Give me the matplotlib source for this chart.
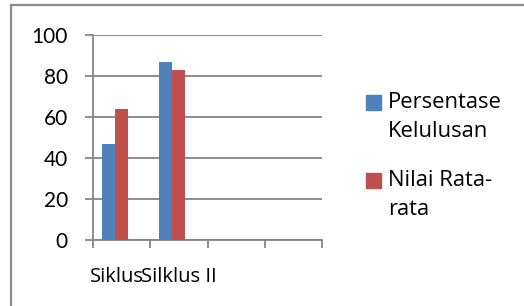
import matplotlib
matplotlib.use('Agg')
import matplotlib.pyplot as plt
from matplotlib.patches import Rectangle
from matplotlib.lines import Line2D

#data
categories = ['Siklus', 'Silklus II', '', '']
persentase_kelulusan = [47, 87]
nilai_rata_rata = [64, 83]
y_ticks = [0, 20, 40, 60, 80, 100]
series_names = ['Persentase\nKelulusan', 'Nilai Rata-\nrata']

BLUE = '#4F81BD'
RED = '#C0504D'
GRID = '#868686'

plt.rcParams['font.family'] = ['Lato', 'DejaVu Sans']
TXT_FONT = ['Open Sans', 'DejaVu Sans']

W, H = 524, 306
fig = plt.figure(figsize=(W / 100, H / 100), dpi=100)

#outer chart frame (only top and left edges visible)
fig.add_artist(Line2D([11 / W, 1], [1 - 5 / H, 1 - 5 / H], color='#8c8c8c', lw=1.6,
                      transform=fig.transFigure))
fig.add_artist(Line2D([11 / W, 11 / W], [0, 1 - 5 / H], color='#8c8c8c', lw=1.6,
                      transform=fig.transFigure))

ax = fig.add_axes([93 / W, 1 - 240 / H, (322 - 93) / W, (240 - 35) / H])

n = len(categories)
slot = list(range(len(persentase_kelulusan)))
bw = 0.226
# excel leaves room for a third (empty) series, so the pair sits left of centre
ax.bar([s + 0.5 - bw for s in slot], persentase_kelulusan, width=bw, color=BLUE, zorder=3)
ax.bar([s + 0.5 for s in slot], nilai_rata_rata, width=bw, color=RED, zorder=3)

ax.set_xlim(0, n)
ax.set_ylim(0, 100)
ax.set_yticks(y_ticks)
ax.set_xticks(range(n + 1))
ax.set_xticklabels([])
ax.yaxis.grid(True, color=GRID, lw=1.3, zorder=0)
for s in ['top', 'right']:
    ax.spines[s].set_visible(False)
for s in ['left', 'bottom']:
    ax.spines[s].set_color(GRID)
    ax.spines[s].set_linewidth(1.3)
ax.tick_params(axis='both', color=GRID, width=1.3, length=6)
ax.tick_params(axis='y', labelsize=15, pad=12)

#category labels (they run into each other in the original)
label_x = [0.41, 1.5, 2.5, 3.5]
for lx, lab in zip(label_x, categories):
    ax.text(lx, -0.18, lab, transform=ax.get_xaxis_transform(), ha='center', va='center',
            fontsize=14.5, family=TXT_FONT)

#legend drawn by hand: square lines up with the first text line
leg_y = [117, 195]
for name, col, ly in zip(series_names, [BLUE, RED], leg_y):
    fig.add_artist(Rectangle((366 / W, 1 - (ly - 7) / H), 15 / W, 15 / H, color=col,
                             transform=fig.transFigure))
    fig.text(388 / W, 1 - ly / H, name, ha='left', va='center', fontsize=15.8,
             family=TXT_FONT, linespacing=1.45)

fig.savefig('out.png', dpi=100)
